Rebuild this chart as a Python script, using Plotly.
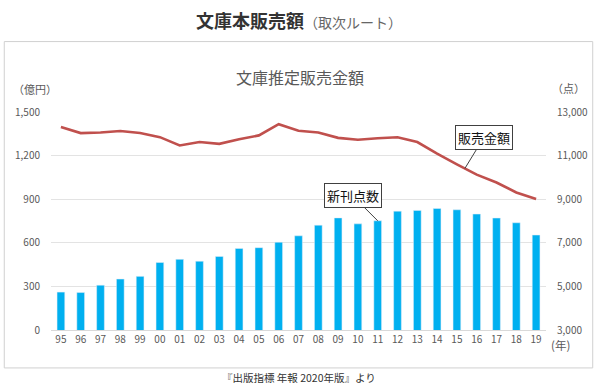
import plotly.graph_objects as go

years = ["95", "96", "97", "98", "99", "00", "01", "02", "03", "04", "05", "06",
         "07", "08", "09", "10", "11", "12", "13", "14", "15", "16", "17", "18", "19"]
sales = [1396, 1355, 1359, 1369, 1355, 1327, 1270, 1293, 1281, 1313, 1339, 1416,
         1371, 1359, 1322, 1309, 1319, 1326, 1293, 1213, 1140, 1069, 1015, 946, 901]
new_titles = [4739, 4718, 5057, 5337, 5461, 6095, 6241, 6155, 6373, 6741, 6776, 7025,
              7320, 7809, 8143, 7869, 8010, 8452, 8487, 8574, 8514, 8318, 8136, 7919, 7355]
left_ticks = [0, 300, 600, 900, 1200, 1500]
right_ticks = [3000, 5000, 7000, 9000, 11000, 13000]

FONT = "Noto Sans CJK JP"
GRAY = "#595959"

fig = go.Figure()
fig.add_trace(go.Bar(x=years, y=new_titles, yaxis="y2", marker_color="#00b0f0",
                     width=0.39, name="新刊点数"))
fig.add_trace(go.Scatter(x=years, y=sales, yaxis="y", mode="lines",
                         line=dict(color="#c0504d", width=2.6), name="販売金額"))

fig.update_layout(
    width=600, height=391,
    margin=dict(l=51, r=51, t=112, b=61),
    paper_bgcolor="white", plot_bgcolor="white",
    showlegend=False,
    font=dict(family=FONT, color=GRAY, size=10),
    xaxis=dict(type="category", tickfont=dict(size=10, color=GRAY), showgrid=False,
               showline=True, linecolor="#d9d9d9", linewidth=1, ticks="", ticklen=0),
    yaxis=dict(range=[0, 1500], tickvals=left_ticks, ticktext=[f"{v:,}" for v in left_ticks],
               showgrid=True, gridcolor="#e3e3e3", gridwidth=1, zeroline=False,
               tickfont=dict(size=10, color=GRAY), ticks="outside", ticklen=8, tickcolor="white"),
    yaxis2=dict(range=[3000, 13000], tickvals=right_ticks, ticktext=[f"{v:,}" for v in right_ticks],
                overlaying="y", side="right", showgrid=False, zeroline=False,
                tickfont=dict(size=10, color=GRAY), ticks="outside", ticklen=8, tickcolor="white"),
)

# outer frame
fig.add_shape(type="rect", xref="paper", yref="paper", x0=-0.0944, x1=1.0944, y0=-0.174, y1=1.323,
              line=dict(color="#d0d0d0", width=1), layer="below")

anns = [
    dict(x=0.5, y=1.422, text="<b>文庫本販売額</b><span style='font-size:14px;color:#666'>（取次ルート）</span>",
         font=dict(size=18, color="#333333")),
    dict(x=0.503, y=1.161, text="文庫推定販売金額", font=dict(size=16, color=GRAY)),
    dict(x=-0.032, y=1.106, text="（億円）", font=dict(size=11, color=GRAY)),
    dict(x=1.046, y=1.11, text="（点）", font=dict(size=11, color=GRAY)),
    dict(x=1.03, y=-0.069, text="(年)", font=dict(size=11.5, color=GRAY)),
    dict(x=0.5, y=-0.22, text="『出版指標 年報 2020年版』より", font=dict(size=10.5, color="#333333")),
]
for a in anns:
    fig.add_annotation(xref="paper", yref="paper", showarrow=False,
                       xanchor="center", yanchor="middle", **a)

fig.add_annotation(x=20.4, y=1111, xref="x", yref="y", text="販売金額",
                   showarrow=True, arrowhead=0, arrowwidth=1, arrowcolor="#404040",
                   ax=19, ay=-31, standoff=0,
                   font=dict(size=13, color="#111111", family=FONT),
                   bgcolor="white", bordercolor="#404040", borderwidth=1, borderpad=2)
fig.add_annotation(x=16, y=8010, xref="x", yref="y2", text="新刊点数",
                   showarrow=True, arrowhead=0, arrowwidth=1, arrowcolor="#404040",
                   ax=-25, ay=-25, standoff=0,
                   font=dict(size=13, color="#111111", family=FONT),
                   bgcolor="white", bordercolor="#404040", borderwidth=1, borderpad=2)

fig.write_html("out.html", config={"displayModeBar": False},
               post_script="document.body.style.margin='0';")
